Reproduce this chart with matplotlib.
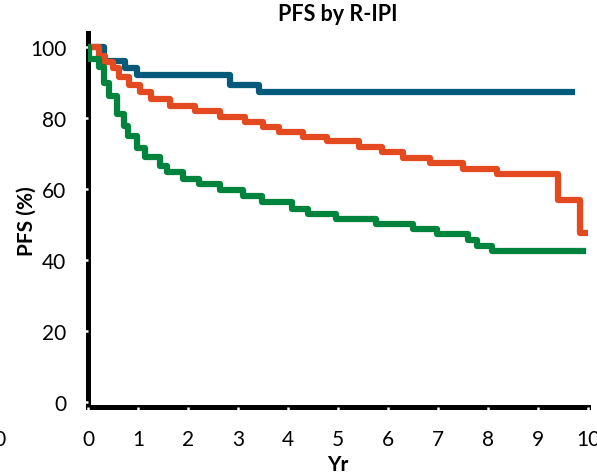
import matplotlib.pyplot as plt

# Kaplan-Meier style step data (years, PFS %)
very_good_t = [0, 0.33, 0.75, 0.99, 2.84, 3.43, 9.68]
very_good_s = [100, 96.2, 94.0, 92.0, 89.2, 87.2, 87.2]

good_t = [0, 0.22, 0.35, 0.50, 0.62, 0.82, 1.04, 1.27, 1.65, 2.14, 2.64, 3.14,
          3.51, 3.82, 4.30, 4.78, 5.42, 5.88, 6.30, 6.84, 7.50, 8.18, 9.40, 9.84, 9.98]
good_s = [100, 97.6, 95.8, 94.0, 91.6, 89.2, 87.3, 85.4, 83.5, 82.0, 80.4, 78.9,
          77.6, 76.1, 74.8, 73.4, 71.9, 70.5, 68.8, 67.2, 65.7, 64.1, 57.0, 47.7, 47.7]

poor_t = [0, 0.03, 0.22, 0.32, 0.42, 0.58, 0.72, 0.80, 0.98, 1.14, 1.44, 1.58,
          1.90, 2.22, 2.64, 3.10, 3.48, 4.08, 4.40, 4.96, 5.76, 6.50, 6.98, 7.60,
          7.78, 8.08, 9.90]
poor_s = [100, 96.6, 94.3, 90.0, 86.2, 81.1, 77.8, 74.9, 71.7, 69.0, 66.5, 64.8,
          62.7, 61.3, 59.6, 57.9, 56.4, 54.5, 53.0, 51.5, 50.2, 48.7, 47.3, 45.7,
          44.0, 42.5, 42.5]

x_ticks = list(range(0, 11))
y_ticks = [0, 20, 40, 60, 80, 100]

plt.rcParams['font.family'] = ['Lato', 'DejaVu Sans']

fig = plt.figure(figsize=(5.97, 4.77), dpi=100)
ax = fig.add_axes([0.1474, 0.144, 0.8375, 0.785])

ax.step(very_good_t, very_good_s, where='post', color='#045a7a', lw=4.5, zorder=3)
ax.step(good_t, good_s, where='post', color='#e34a1f', lw=4.5, zorder=3)
ax.step(poor_t, poor_s, where='post', color='#00843d', lw=4.5, zorder=3)

ax.set_xlim(0, 10)
ax.set_ylim(-1.5, 104)
ax.set_xticks(x_ticks)
ax.set_yticks(y_ticks)

for side in ['top', 'right']:
    ax.spines[side].set_visible(False)
for side in ['left', 'bottom']:
    ax.spines[side].set_linewidth(3.6)
    ax.spines[side].set_zorder(1)
ax.xaxis.set_zorder(2)
ax.yaxis.set_zorder(2)

ax.tick_params(axis='both', direction='out', length=2.5, width=1.8, color='white',
               labelsize=15, pad=13)

ax.set_title('PFS by R-IPI', fontsize=15.5, fontweight='bold', pad=9)
ax.set_xlabel('Yr', fontsize=15, fontweight='bold', labelpad=4)
ax.set_ylabel('PFS (%)', fontsize=15, fontweight='bold', labelpad=-5)

# clipped label fragment at the far left edge
fig.text(7 / 597, 1 - 440 / 477, '10', fontsize=15, ha='right', va='center')

fig.savefig('out.png', dpi=100)
